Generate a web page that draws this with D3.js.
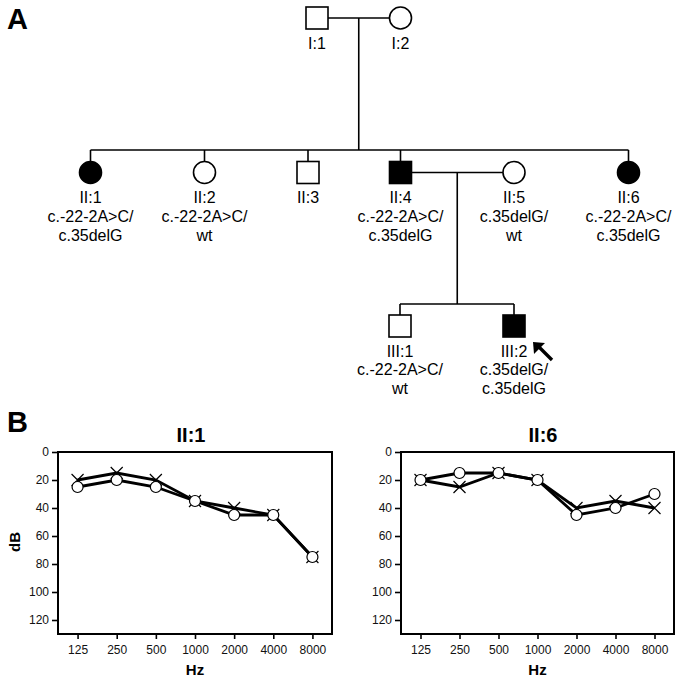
<!DOCTYPE html>
<html>
<head>
<meta charset="utf-8">
<script src="https://cdn.jsdelivr.net/npm/d3@7"></script>
<style>
  html, body { margin: 0; padding: 0; background: #fff; }
  svg { display: block; font-family: "Liberation Sans", Arial, Helvetica, sans-serif; }
</style>
</head>
<body>
<svg id="chart" width="683" height="684"></svg>
<script>
// ---------- DATA ----------
const freqs = ["125", "250", "500", "1000", "2000", "4000", "8000"];
const dbTicks = [0, 20, 40, 60, 80, 100, 120];
const dbDomain = [0, 130];

// II:1 audiogram
const ii1Circle = [25, 20, 25, 35, 45, 45, 75];
const ii1Cross  = [20, 15, 20, 35, 40, 45, 75];
// II:6 audiogram
const ii6Circle = [20, 15, 15, 20, 45, 40, 30];
const ii6Cross  = [20, 25, 15, 20, 40, 35, 40];

// Pedigree individuals
const individuals = [
  { id: "I:1",   gen: 1, sex: "m", affected: false, geno: [] },
  { id: "I:2",   gen: 1, sex: "f", affected: false, geno: [] },
  { id: "II:1",  gen: 2, sex: "f", affected: true,  geno: ["c.-22-2A>C/", "c.35delG"] },
  { id: "II:2",  gen: 2, sex: "f", affected: false, geno: ["c.-22-2A>C/", "wt"] },
  { id: "II:3",  gen: 2, sex: "m", affected: false, geno: [] },
  { id: "II:4",  gen: 2, sex: "m", affected: true,  geno: ["c.-22-2A>C/", "c.35delG"] },
  { id: "II:5",  gen: 2, sex: "f", affected: false, geno: ["c.35delG/", "wt"] },
  { id: "II:6",  gen: 2, sex: "f", affected: true,  geno: ["c.-22-2A>C/", "c.35delG"] },
  { id: "III:1", gen: 3, sex: "m", affected: false, geno: ["c.-22-2A>C/", "wt"] },
  { id: "III:2", gen: 3, sex: "m", affected: true,  geno: ["c.35delG/", "c.35delG"], proband: true }
];
const couples = [["I:1", "I:2"], ["II:4", "II:5"]];
const sibships = [
  { parents: ["I:1", "I:2"], children: ["II:1", "II:2", "II:3", "II:4", "II:6"] },
  { parents: ["II:4", "II:5"], children: ["III:1", "III:2"] }
];

// ---------- LAYOUT ----------
const pedX = { "I:1": 317, "I:2": 400.5, "II:1": 90.5, "II:2": 204.5, "II:3": 308, "II:4": 400.5,
               "II:5": 514, "II:6": 628.5, "III:1": 400, "III:2": 514 };
const genY = d3.scaleOrdinal().domain([1, 2, 3]).range([18, 172.5, 326]);
const sibLineY = [150, 304];
const S = 11; // half symbol size

const svg = d3.select("#chart");
const ped = svg.append("g").attr("stroke", "#000").attr("stroke-width", 1.6);

const byId = Object.fromEntries(individuals.map(d => [d.id, d]));
const px = id => pedX[id];
const py = id => genY(byId[id].gen);

// couple lines + descent
couples.forEach((c, i) => {
  const [a, b] = c;
  ped.append("line").attr("x1", px(a) + S).attr("x2", px(b) - S)
     .attr("y1", py(a)).attr("y2", py(a));
  const mx = (px(a) + px(b)) / 2;
  const sy = sibLineY[i];
  ped.append("line").attr("x1", mx).attr("x2", mx).attr("y1", py(a)).attr("y2", sy);
  const kids = sibships[i].children;
  const ext = d3.extent(kids.map(px));
  ped.append("line").attr("x1", ext[0]).attr("x2", ext[1]).attr("y1", sy).attr("y2", sy);
  kids.forEach(k => {
    ped.append("line").attr("x1", px(k)).attr("x2", px(k)).attr("y1", sy).attr("y2", py(k) - S);
  });
});

// symbols
individuals.forEach(d => {
  const x = px(d.id), y = py(d.id);
  const fill = d.affected ? "#000" : "#fff";
  if (d.sex === "m") {
    ped.append("rect").attr("x", x - S).attr("y", y - S).attr("width", 2 * S).attr("height", 2 * S)
       .attr("fill", fill);
  } else {
    ped.append("circle").attr("cx", x).attr("cy", y).attr("r", S).attr("fill", fill);
  }
  const lines = [d.id].concat(d.geno);
  const t = svg.append("text").attr("text-anchor", "middle").attr("font-size", 16).attr("fill", "#000");
  lines.forEach((ln, j) => {
    t.append("tspan").attr("x", x).attr("y", y + 30.5 + j * 18.8).text(ln);
  });
  if (d.proband) {
    svg.append("line").attr("x1", x + 38).attr("y1", y + 34).attr("x2", x + 25).attr("y2", y + 21)
       .attr("stroke", "#000").attr("stroke-width", 3.4);
    svg.append("path")
       .attr("d", `M${x + 19},${y + 16} L${x + 31},${y + 17} L${x + 20},${y + 28} Z`)
       .attr("fill", "#000");
  }
});

// panel labels
svg.append("text").attr("x", 7).attr("y", 29).attr("font-size", 29).attr("font-weight", "bold").text("A");
svg.append("text").attr("x", 7).attr("y", 432).attr("font-size", 29).attr("font-weight", "bold").text("B");

// ---------- AUDIOGRAMS ----------
function audiogram(left, right, title, titleX, circ, cross, showYLabel) {
  const top = 452, bottom = 634;
  const x = d3.scalePoint().domain(freqs).range([left, right]).padding(0.5);
  const y = d3.scaleLinear().domain(dbDomain).range([top, bottom]);
  const g = svg.append("g");

  g.append("text").attr("x", titleX).attr("y", 442).attr("text-anchor", "middle")
   .attr("font-size", 20).attr("font-weight", "bold").text(title);

  const yAxis = d3.axisLeft(y).tickValues(dbTicks).tickSize(6).tickPadding(3);
  const ya = g.append("g").attr("transform", `translate(${left},0)`).call(yAxis);
  ya.select(".domain").remove();
  ya.selectAll("line").attr("stroke-width", 1.6);
  ya.selectAll("text").attr("font-size", 12).attr("font-family", "Liberation Sans, Arial, sans-serif").attr("fill", "#111");

  const xAxis = d3.axisBottom(x).tickSize(5).tickPadding(6);
  const xa = g.append("g").attr("transform", `translate(0,${bottom})`).call(xAxis);
  xa.select(".domain").remove();
  xa.selectAll("line").attr("stroke-width", 1.6);
  xa.selectAll("text").attr("font-size", 12).attr("font-family", "Liberation Sans, Arial, sans-serif").attr("fill", "#111");

  g.append("rect").attr("x", left).attr("y", top).attr("width", right - left).attr("height", bottom - top)
   .attr("fill", "none").attr("stroke", "#000").attr("stroke-width", 2);

  g.append("text").attr("x", (left + right) / 2).attr("y", 675).attr("text-anchor", "middle")
   .attr("font-size", 15).attr("font-weight", "bold").text("Hz");
  if (showYLabel) {
    g.append("text").attr("transform", `translate(20,${(top + bottom) / 2 - 1}) rotate(-90)`)
     .attr("text-anchor", "middle").attr("font-size", 15).attr("font-weight", "bold").text("dB");
  }

  const line = d3.line().x((d, i) => x(freqs[i])).y(d => y(d));
  g.append("path").datum(cross).attr("d", line).attr("fill", "none").attr("stroke", "#000").attr("stroke-width", 2.8);
  g.append("path").datum(circ).attr("d", line).attr("fill", "none").attr("stroke", "#000").attr("stroke-width", 2.8);

  const c = 6;
  g.selectAll(".cross").data(cross).enter().append("path")
   .attr("d", (d, i) => {
     const cx = x(freqs[i]), cy = y(d);
     return `M${cx - c},${cy - c}L${cx + c},${cy + c}M${cx - c},${cy + c}L${cx + c},${cy - c}`;
   })
   .attr("stroke", "#000").attr("stroke-width", 1.2).attr("fill", "none");

  g.selectAll(".circ").data(circ).enter().append("circle")
   .attr("cx", (d, i) => x(freqs[i])).attr("cy", d => y(d)).attr("r", 5.5)
   .attr("fill", "#fff").attr("stroke", "#000").attr("stroke-width", 1.2);
}

audiogram(58, 332, "II:1", 191, ii1Circle, ii1Cross, true);
audiogram(401, 674, "II:6", 543, ii6Circle, ii6Cross, false);
</script>
</body>
</html>
